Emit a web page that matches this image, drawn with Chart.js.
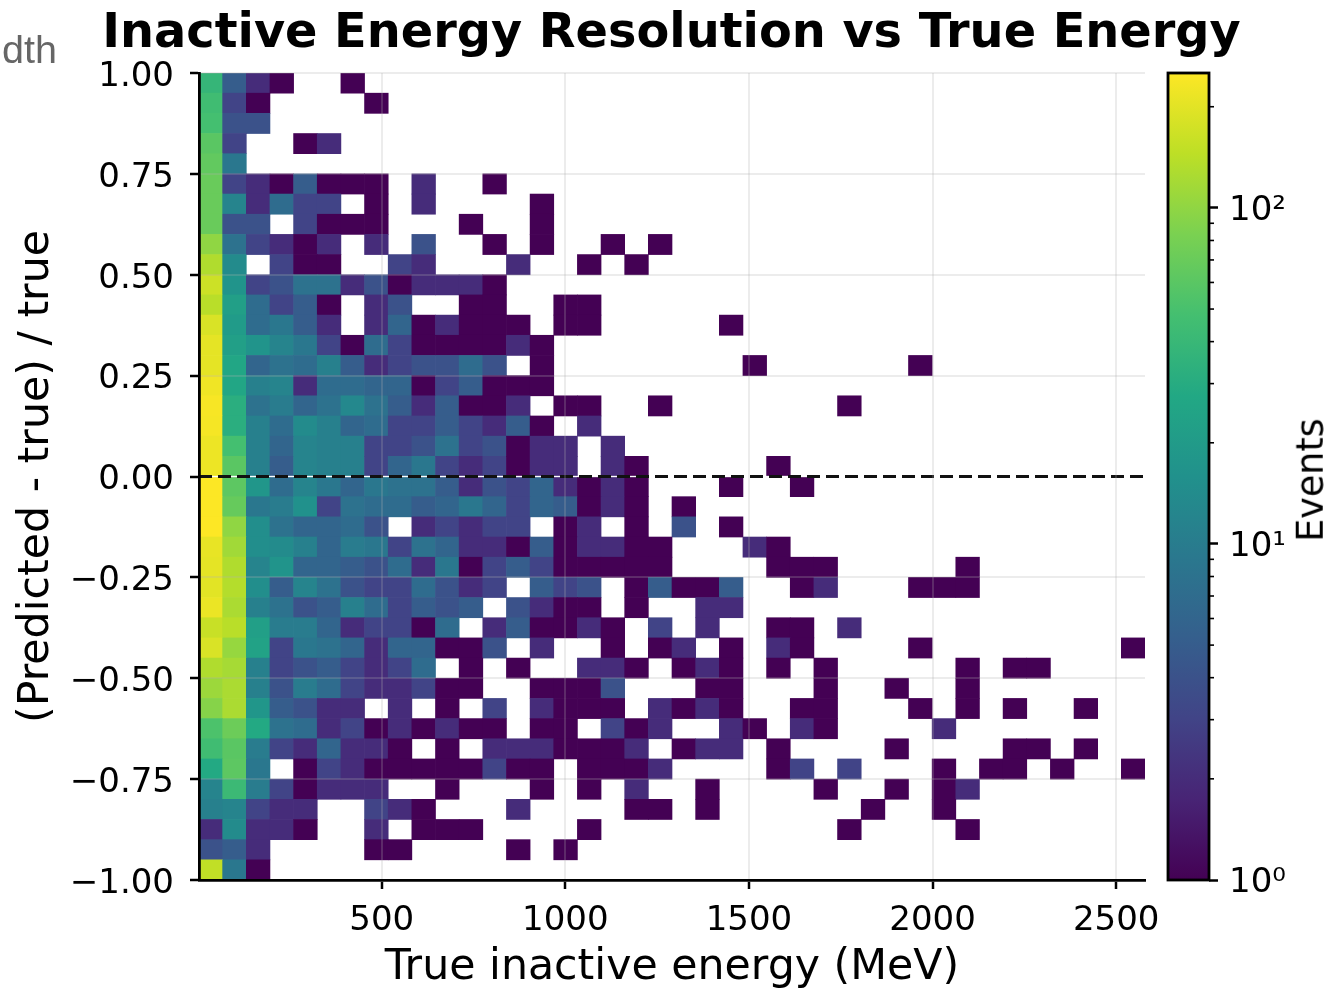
<!DOCTYPE html>
<html>
<head>
<meta charset="utf-8">
<script src="https://cdn.jsdelivr.net/npm/chart.js@4"></script>
<style>
    body { margin: 0; background: #fff; overflow: hidden; font-family: "DejaVu Sans"; }
    canvas { position: absolute; top: 0; }
    #mainChart { left: 0; }
    #colorbar { left: 1150px; }
    .label { position: absolute; white-space: nowrap; line-height: 1; }
    #title { left: 671.5px; top: 7px; transform: translateX(-50%); font-weight: bold; font-size: 47.8px; color: #000; }
    #events { left: 1311px; top: 480px; transform: translate(-50%, -50%) rotate(-90deg); font-size: 36.5px; color: #000; }
    #cut { left: 2px; top: 30px; font-family: "Liberation Sans"; font-size: 39.5px; color: #666; }
</style>
</head>
<body>
<canvas id="mainChart" width="1331" height="989"></canvas>
<canvas id="colorbar" width="181" height="989"></canvas>
<div class="label" id="title">Inactive Energy Resolution vs True Energy</div>
<div class="label" id="events">Events</div>
<div class="label" id="cut">dth</div>
<script>
// bin edges of the 2d histogram
const xEdges = [2.5, 66.9, 131.3, 195.7, 260.1, 324.5, 388.9, 453.3, 517.7, 582.1, 646.5, 710.9, 775.3, 839.7,
    904.1, 968.5, 1032.9, 1097.3, 1161.7, 1226.1, 1290.5, 1354.9, 1419.3, 1483.7, 1548.1, 1612.5, 1676.9, 1741.3,
    1805.7, 1870.1, 1934.5, 1998.9, 2063.3, 2127.7, 2192.1, 2256.5, 2320.9, 2385.3, 2449.7, 2514.1, 2578.5];
const yEdges = [1, 0.95, 0.9, 0.85, 0.8, 0.75, 0.7, 0.65, 0.6, 0.55, 0.5, 0.45, 0.4, 0.35, 0.3, 0.25, 0.2, 0.15, 0.1,
    0.05, 0, -0.05, -0.1, -0.15, -0.2, -0.25, -0.3, -0.35, -0.4, -0.45, -0.5, -0.55, -0.6, -0.65, -0.7, -0.75, -0.8,
    -0.85, -0.9, -0.95, -1];

// events per bin, top row first, left to right (0 = empty)
const counts = [
    [38,5,2,1,0,0,1],
    [45,3,1,0,0,0,0,1],
    [48,4,4],
    [60,3,0,0,1,2],
    [65,9],
    [70,3,2,1,5,1,1,1,0,2,0,0,1],
    [70,12,2,7,3,3,0,1,0,2,0,0,0,0,1],
    [70,4,4,0,3,1,1,1,0,0,0,1,0,0,1],
    [100,8,3,2,1,2,0,2,0,4,0,0,1,0,1,0,0,1,0,1],
    [130,14,0,3,1,1,0,0,3,2,0,0,0,2,0,0,1,0,1],
    [165,17,3,4,8,8,2,4,1,2,2,2,1],
    [140,22,7,3,5,1,0,2,4,0,0,1,1,0,0,1,1],
    [185,20,7,9,5,2,0,2,6,1,2,1,1,1,0,1,1,0,0,0,0,0,1],
    [205,22,17,12,9,3,1,7,3,1,1,1,1,2,1],
    [205,26,6,8,7,11,5,2,3,4,4,7,4,0,1,0,0,0,0,0,0,0,0,1,0,0,0,0,0,0,1],
    [225,26,11,12,2,7,7,6,6,1,3,5,1,1,1],
    [240,32,8,10,6,8,13,8,5,2,5,1,1,2,0,1,1,0,0,1,0,0,0,0,0,0,0,1],
    [235,32,11,7,14,11,6,7,3,3,5,3,2,5,1,0,2],
    [220,48,11,6,12,11,11,3,3,4,8,3,4,1,2,2,0,2],
    [220,60,11,5,12,11,11,3,6,9,3,2,3,1,2,2,0,2,1,0,0,0,0,0,1],
    [250,62,18,7,12,9,6,9,8,8,5,2,4,3,6,2,1,2,1,0,0,0,1,0,0,1],
    [250,68,9,10,16,3,8,7,7,5,6,9,6,3,6,5,1,2,1,0,1],
    [252,100,15,8,6,6,7,4,0,2,3,2,3,3,0,1,2,0,1,0,4,0,1],
    [210,115,15,14,11,6,10,9,3,8,6,2,2,1,5,1,2,2,1,1,0,0,0,2,1],
    [205,130,12,17,6,6,5,4,7,2,9,1,3,5,3,1,1,1,1,1,0,0,0,0,1,1,1,0,0,0,0,0,1],
    [200,135,15,5,12,8,4,3,3,7,4,2,3,0,5,3,4,0,1,5,1,1,5,0,0,1,2,0,0,0,1,1,1],
    [215,125,11,8,4,5,11,7,3,5,4,5,0,4,2,1,1,0,1,0,0,2,2],
    [160,140,22,10,10,6,2,3,3,1,7,0,2,5,1,1,2,1,0,3,0,2,0,0,1,1,0,2],
    [185,105,24,3,9,8,6,2,6,6,1,1,4,0,2,0,0,1,0,1,2,0,1,0,2,1,0,0,0,0,1,0,0,0,0,0,0,0,0,1],
    [130,120,11,3,4,5,3,2,3,7,0,1,0,1,0,0,2,2,1,0,1,2,1,0,1,0,1,0,0,0,0,0,1,0,1,1],
    [110,125,11,4,10,7,3,2,2,3,1,1,0,0,1,1,1,4,0,0,0,1,1,0,0,0,1,0,0,1,0,0,1],
    [92,125,18,5,4,2,2,0,2,0,1,0,3,0,2,1,1,1,0,2,1,2,1,0,0,1,1,0,0,0,1,0,1,0,1,0,0,1],
    [52,72,28,8,7,2,3,1,2,1,2,1,1,0,1,1,0,3,1,2,0,0,2,1,0,2,1,0,0,0,0,2],
    [45,60,10,3,2,6,2,2,1,0,1,0,2,2,2,1,1,1,2,0,1,2,2,0,1,0,0,0,0,1,0,0,0,0,1,1,0,1],
    [28,62,9,0,1,3,2,1,1,1,1,1,3,1,1,0,1,1,1,2,0,0,0,0,1,3,0,3,0,0,0,1,0,1,1,0,1,0,0,1],
    [12,42,10,3,1,2,2,2,0,0,1,0,0,0,1,0,1,0,2,0,0,1,0,0,0,0,1,0,0,1,0,1,2],
    [11,12,3,2,2,0,0,3,2,1,0,0,0,2,0,0,0,0,1,1,0,1,0,0,0,0,0,0,1,0,0,1],
    [2,14,2,2,1,0,0,2,0,1,1,1,0,0,0,0,1,0,0,0,0,0,0,0,0,0,0,1,0,0,0,0,1],
    [4,5,2,0,0,0,0,1,1,0,0,0,0,1,0,1],
    [150,9,1]
];

const xTicks = [500, 1000, 1500, 2000, 2500];
const colorMin = 1;
const colorMax = 252;
const colorMajorTicks = [1, 10, 100];
const colorMinorTicks = [2, 3, 4, 5, 6, 7, 8, 9, 20, 30, 40, 50, 60, 70, 80, 90, 200];
const powerLabels = { 1: '10\u2070', 10: '10\u00b9', 100: '10\u00b2' };

const viridis = ['#440154', '#482475', '#414487', '#355f8d', '#2a788e', '#21918c', '#22a884', '#44bf70', '#7ad151', '#bddf26', '#fde725'];

function hexToRgb(hex) {
    return [1, 3, 5].map(i => parseInt(hex.slice(i, i + 2), 16));
}

function colorForCount(value) {
    const t = Math.log10(value / colorMin) / Math.log10(colorMax / colorMin);
    const pos = Math.min(t, 1) * (viridis.length - 1);
    const i = Math.min(Math.floor(pos), viridis.length - 2);
    const a = hexToRgb(viridis[i]);
    const b = hexToRgb(viridis[i + 1]);
    const c = a.map((v, k) => Math.round(v + (b[k] - v) * (pos - i)));
    return `rgb(${c[0]}, ${c[1]}, ${c[2]})`;
}

const cells = [];
counts.forEach((row, r) => {
    row.forEach((value, c) => {
        if (value > 0) {
            cells.push({
                x: (xEdges[c] + xEdges[c + 1]) / 2,
                y: [yEdges[r + 1], yEdges[r]],
                count: value
            });
        }
    });
});

const axisFont = { family: 'DejaVu Sans', size: 34 };
const titleFont = { family: 'DejaVu Sans', size: 42.7, lineHeight: 1 };
const gridColor = 'rgba(176, 176, 176, 0.24)';

new Chart(document.getElementById('mainChart').getContext('2d'), {
    type: 'bar',
    data: {
        datasets: [
            {
                type: 'line',
                data: [{ x: xEdges[0], y: 0 }, { x: xEdges[xEdges.length - 1], y: 0 }],
                borderColor: '#111',
                borderWidth: 3,
                borderDash: [13, 6],
                pointRadius: 0,
                order: 0
            },
            {
                data: cells,
                backgroundColor: ctx => colorForCount(ctx.raw.count),
                borderWidth: 0,
                barPercentage: 1,
                categoryPercentage: 1,
                grouped: false,
                order: 1
            }
        ]
    },
    options: {
        responsive: false,
        animation: false,
        layout: { padding: { top: 73, right: 186 } },
        plugins: { legend: { display: false }, tooltip: { enabled: false } },
        scales: {
            x: {
                type: 'linear',
                offset: false,
                min: xEdges[0],
                max: xEdges[xEdges.length - 1],
                afterBuildTicks: scale => { scale.ticks = xTicks.map(v => ({ value: v })); },
                afterFit: scale => { scale.height = 109; },
                grid: { offset: false, color: gridColor, lineWidth: 2, z: 1, tickColor: '#000', tickWidth: 2.5, tickLength: 9 },
                border: { color: '#000', width: 2.8, z: 2 },
                ticks: { font: axisFont, color: '#000', padding: 12, maxRotation: 0, autoSkip: false, callback: v => String(v) },
                title: { display: true, text: 'True inactive energy (MeV)', font: titleFont, color: '#000', padding: { top: 0, bottom: 0 } }
            },
            y: {
                type: 'linear',
                min: -1,
                max: 1,
                afterFit: scale => { scale.width = 199; },
                grid: {
                    color: ctx => (ctx.tick && ctx.tick.value === 0 ? 'rgba(0, 0, 0, 0)' : gridColor),
                    lineWidth: 2,
                    z: 1,
                    tickColor: '#000',
                    tickWidth: 2.5,
                    tickLength: 9
                },
                border: { color: '#000', width: 2.8, z: 2 },
                ticks: {
                    stepSize: 0.25,
                    font: axisFont,
                    color: '#000',
                    padding: 16,
                    labelOffset: 4,
                    callback: v => (v < 0 ? '\u2212' : '') + Math.abs(v).toFixed(2)
                },
                title: { display: true, text: '(Predicted - true) / true', font: titleFont, color: '#000', padding: { top: 16, bottom: 0 } }
            }
        }
    }
});

// frame and minor ticks of the colour bar
const colorbarFrame = {
    id: 'colorbarFrame',
    afterDraw(chart) {
        const ctx = chart.ctx;
        const area = chart.chartArea;
        const scale = chart.scales.y;
        ctx.save();
        ctx.strokeStyle = '#000';
        ctx.lineWidth = 1.6;
        colorMinorTicks.forEach(v => {
            const y = scale.getPixelForValue(v);
            ctx.beginPath();
            ctx.moveTo(area.right, y);
            ctx.lineTo(area.right + 5, y);
            ctx.stroke();
        });
        ctx.lineWidth = 2.8;
        ctx.strokeRect(area.left, area.top, area.right - area.left, area.bottom - area.top);
        ctx.restore();
    }
};

new Chart(document.getElementById('colorbar').getContext('2d'), {
    type: 'bar',
    data: {
        labels: ['Events'],
        datasets: [{
            data: [[colorMin, colorMax]],
            backgroundColor: ctx => {
                const area = ctx.chart.chartArea;
                if (!area) return null;
                const gradient = ctx.chart.ctx.createLinearGradient(0, area.bottom, 0, area.top);
                viridis.forEach((c, i) => gradient.addColorStop(i / (viridis.length - 1), c));
                return gradient;
            },
            borderWidth: 0,
            barPercentage: 1,
            categoryPercentage: 1
        }]
    },
    options: {
        responsive: false,
        animation: false,
        layout: { padding: { top: 73, bottom: 109, left: 18 } },
        plugins: { legend: { display: false }, tooltip: { enabled: false } },
        scales: {
            x: { display: false },
            y: {
                type: 'logarithmic',
                position: 'right',
                min: colorMin,
                max: colorMax,
                afterBuildTicks: scale => { scale.ticks = colorMajorTicks.map(v => ({ value: v })); },
                afterFit: scale => { scale.width = 122; },
                grid: { drawOnChartArea: false, tickColor: '#000', tickWidth: 2.5, tickLength: 9 },
                border: { display: false },
                ticks: { font: axisFont, color: '#000', padding: 11, labelOffset: 3, autoSkip: false, callback: v => powerLabels[v] }
            }
        }
    },
    plugins: [colorbarFrame]
});
</script>
</body>
</html>
